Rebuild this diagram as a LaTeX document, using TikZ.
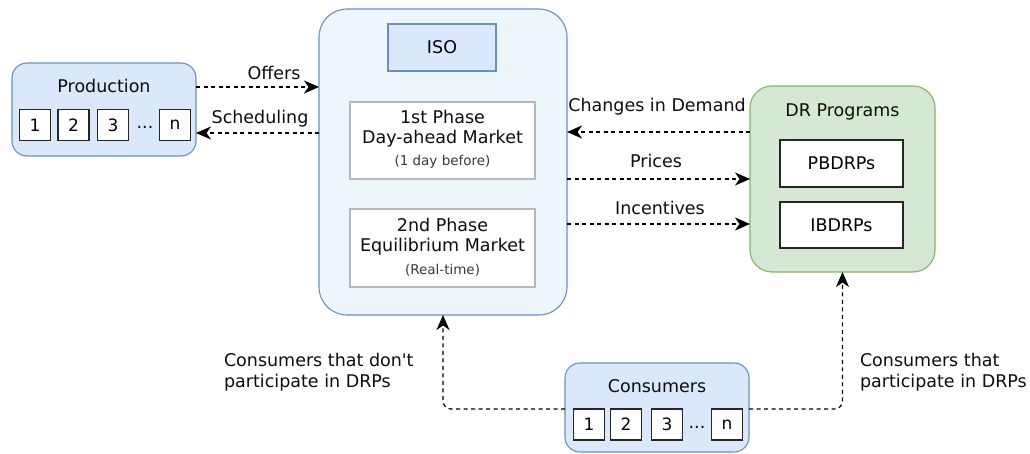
\documentclass[tikz,border=0pt]{standalone}
\usepackage{fontspec}
\setmainfont{DejaVu Sans}
\usetikzlibrary{arrows.meta}
\definecolor{bluefill}{HTML}{DAE8FC}
\definecolor{bluedraw}{HTML}{6C8EBF}
\definecolor{isofill}{HTML}{EDF6FA}
\definecolor{greenfill}{HTML}{D5E8D4}
\definecolor{greendraw}{HTML}{82B366}
\definecolor{greyline}{HTML}{B8B8B8}
\definecolor{smalltext}{HTML}{3A3A3A}
\tikzset{
  base/.style={inner sep=0pt, outer sep=0pt},
  bluebox/.style={base, draw=bluedraw, fill=bluefill, line width=1.1pt, rounded corners=15pt},
  isobox/.style={base, draw=bluedraw, fill=isofill, line width=1.1pt, rounded corners=28pt},
  titlebox/.style={base, draw=bluedraw, fill=bluefill, line width=1.1pt},
  phasebox/.style={base, draw=greyline, fill=white, line width=1.1pt},
  greenbox/.style={base, draw=greendraw, fill=greenfill, line width=1.1pt, rounded corners=22pt},
  whitebox/.style={base, draw=black!85, fill=white, line width=1.3pt},
  numbox/.style={base, draw=black!85, fill=white, line width=1.3pt, minimum width=31pt, minimum height=31pt, font=\fontsize{17}{20}\selectfont},
  lbl/.style={base, font=\fontsize{17.5}{21}\selectfont, text=black!95},
  small/.style={base, font=\fontsize{13.5}{16}\selectfont, text=smalltext},
  tip/.tip={Stealth[length=15pt,width=13pt,inset=4.5pt]},
  flow/.style={line width=1.2pt, dash pattern=on 4pt off 3.5pt, -tip},
}
\begin{document}
\begin{tikzpicture}[x=1pt,y=-1pt]
\useasboundingbox (0,0) rectangle (1030,454);
% Production
\node[bluebox, minimum width=184pt, minimum height=93pt] (prod) at (104,109.5) {};
\node[lbl] (prodlbl) at (104,86) {Production};
\node[numbox] (p1) at (35,125) {1};
\node[numbox] (p2) at (73.5,125) {2};
\node[numbox] (p3) at (113,125) {3};
\node[lbl] (pdots) at (145,127) {...};
\node[numbox] (pn) at (175,125) {n};
% ISO
\node[isobox, minimum width=248pt, minimum height=306pt] (iso) at (443,162) {};
\node[titlebox, minimum width=108pt, minimum height=47pt, font=\fontsize{17.5}{21}\selectfont] (isot) at (442,47.5) {ISO};
\node[phasebox, minimum width=185pt, minimum height=77pt] (ph1) at (442.5,140.5) {};
\node[lbl] (ph1a) at (442.5,117) {1st Phase};
\node[lbl] (ph1b) at (442.5,139) {Day-ahead Market};
\node[small] (ph1c) at (442.5,162) {(1 day before)};
\node[phasebox, minimum width=185pt, minimum height=78pt] (ph2) at (442.5,248) {};
\node[lbl] (ph2a) at (442.5,225) {2nd Phase};
\node[lbl] (ph2b) at (442.5,247) {Equilibrium Market};
\node[small] (ph2c) at (442.5,270) {(Real-time)};
% DR programs
\node[greenbox, minimum width=185pt, minimum height=186pt] (dr) at (842.5,179) {};
\node[lbl] (drlbl) at (842.5,112) {DR Programs};
\node[whitebox, minimum width=123pt, minimum height=47pt, font=\fontsize{17.5}{21}\selectfont] (pb) at (841.5,163.5) {PBDRPs};
\node[whitebox, minimum width=123pt, minimum height=46pt, font=\fontsize{17.5}{21}\selectfont] (ib) at (841.5,225) {IBDRPs};
% Consumers
\node[bluebox, minimum width=184pt, minimum height=89pt] (cons) at (657,407.5) {};
\node[lbl] (conslbl) at (657,386) {Consumers};
\node[numbox] (c1) at (589,424.5) {1};
\node[numbox] (c2) at (626,424.5) {2};
\node[numbox] (c3) at (667,424.5) {3};
\node[lbl] (cdots) at (697,427) {...};
\node[numbox] (cn) at (727,424.5) {n};
% connectors
\draw[flow] (prod.east |- 0,87) -- (iso.west |- 0,87);
\node[lbl] (offers) at (274,73) {Offers};
\draw[flow] (iso.west |- 0,133) -- (prod.east |- 0,133);
\node[lbl] (sched) at (260,119) {Scheduling};
\draw[flow] (dr.west |- 0,132) -- (iso.east |- 0,132);
\node[lbl] (chg) at (657,107) {Changes in Demand};
\draw[flow] (iso.east |- 0,179) -- (dr.west |- 0,179);
\node[lbl] (prices) at (656,161) {Prices};
\draw[flow] (iso.east |- 0,224) -- (dr.west |- 0,224);
\node[lbl] (inc) at (660,208) {Incentives};
\draw[flow, rounded corners=8pt] (cons.west |- 0,409) -| (iso.south);
\draw[flow, rounded corners=8pt] (cons.east |- 0,409) -| (dr.south);
\node[lbl, align=left, anchor=west] (nonpart) at (224,372.5) {Consumers that don\textquotesingle t\\participate in DRPs};
\node[lbl, align=left, anchor=west] (part) at (860,372.5) {Consumers that\\participate in DRPs};
\end{tikzpicture}
\end{document}
